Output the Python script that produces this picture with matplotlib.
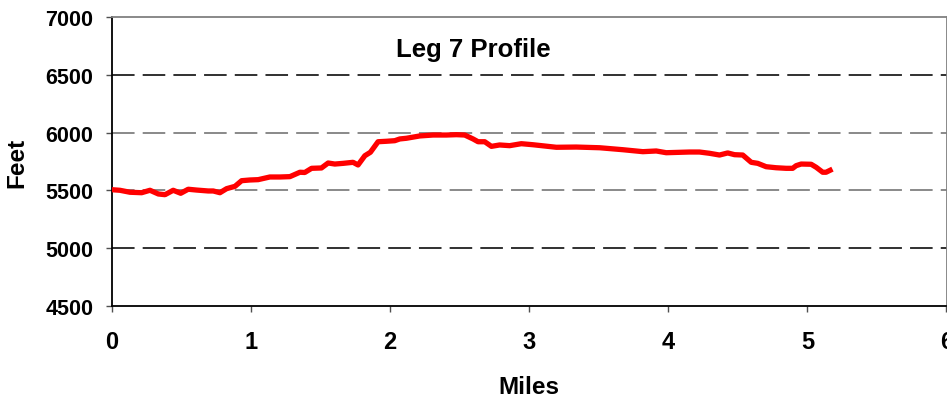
import numpy as np
import matplotlib
matplotlib.use('Agg')
import matplotlib.pyplot as plt

# leg 7 elevation profile
miles = [0.0, 0.057, 0.129, 0.213, 0.273, 0.333, 0.381, 0.440, 0.494, 0.548,
         0.608, 0.692, 0.728, 0.776, 0.824, 0.884, 0.932, 0.991, 1.051, 1.135,
         1.207, 1.279, 1.351, 1.386, 1.435, 1.506, 1.554, 1.602, 1.662, 1.733,
         1.769, 1.818, 1.858, 1.913, 1.973, 2.033, 2.069, 2.117, 2.213, 2.308,
         2.404, 2.476, 2.536, 2.596, 2.632, 2.680, 2.728, 2.787, 2.859, 2.943,
         3.027, 3.195, 3.338, 3.506, 3.673, 3.817, 3.913, 3.985, 4.152, 4.224,
         4.296, 4.368, 4.427, 4.476, 4.535, 4.596, 4.643, 4.703, 4.775, 4.847,
         4.894, 4.919, 4.955, 5.027, 5.063, 5.110, 5.134, 5.163]
feet = [5506, 5501, 5484, 5480, 5501, 5469, 5463, 5501, 5475, 5510,
        5503, 5495, 5495, 5480, 5515, 5535, 5584, 5590, 5593, 5616,
        5616, 5619, 5657, 5655, 5691, 5694, 5737, 5728, 5734, 5743,
        5720, 5800, 5830, 5921, 5925, 5930, 5945, 5951, 5971, 5979,
        5979, 5982, 5979, 5945, 5921, 5921, 5881, 5893, 5887, 5904,
        5895, 5873, 5875, 5869, 5852, 5835, 5841, 5826, 5832, 5832,
        5821, 5806, 5824, 5809, 5806, 5743, 5734, 5705, 5696, 5691,
        5691, 5714, 5728, 5726, 5700, 5657, 5657, 5674]

xticks = [0, 1, 2, 3, 4, 5, 6]
yticks = [4500, 5000, 5500, 6000, 6500, 7000]
title = 'Leg 7 Profile'

plt.rcParams['font.family'] = ['Liberation Sans', 'DejaVu Sans']
plt.rcParams['font.weight'] = 'bold'

fig = plt.figure(figsize=(9.47, 4.02), dpi=100)
ax = fig.add_axes([112/947., 95/402., 834.5/947., 289/402.])

ax.plot(miles, feet, color='#ff0000', lw=3.8, solid_joinstyle='round', zorder=3)

ax.set_xlim(0, 6)
ax.set_ylim(4500, 7000)
ax.set_xticks(xticks)
ax.set_yticks(yticks)

ax.grid(axis='y', color='#808080', lw=1.3, dashes=(12.5, 4.5))
gl = ax.yaxis.get_gridlines()
for i, l in enumerate(gl):
    if yticks[i] in (4500, 7000):
        l.set_visible(False)
    elif yticks[i] in (5000, 6500):
        l.set_color('#202020')

for s in ['left', 'bottom']:
    ax.spines[s].set_color('black')
for s in ['top', 'right']:
    ax.spines[s].set_color('#808080')
for s in ax.spines.values():
    s.set_linewidth(1.3)

ax.tick_params(axis='y', direction='out', length=4.5, width=1, pad=9,
               labelsize=15.5, color='#505050')
ax.tick_params(axis='x', direction='out', length=4.5, width=1, pad=13,
               labelsize=17, color='#505050')

ax.set_xlabel('Miles', fontsize=17.5, fontweight='bold', va='center')
ax.xaxis.set_label_coords(0.5, -0.28)
ax.set_ylabel('Feet', fontsize=17.5, fontweight='bold', va='center')
ax.yaxis.set_label_coords(-0.1138, 0.5)

ax.text(2.6, 6723, title, fontsize=18.5, fontweight='bold', ha='center', va='center')

plt.savefig('out.png', dpi=100)
